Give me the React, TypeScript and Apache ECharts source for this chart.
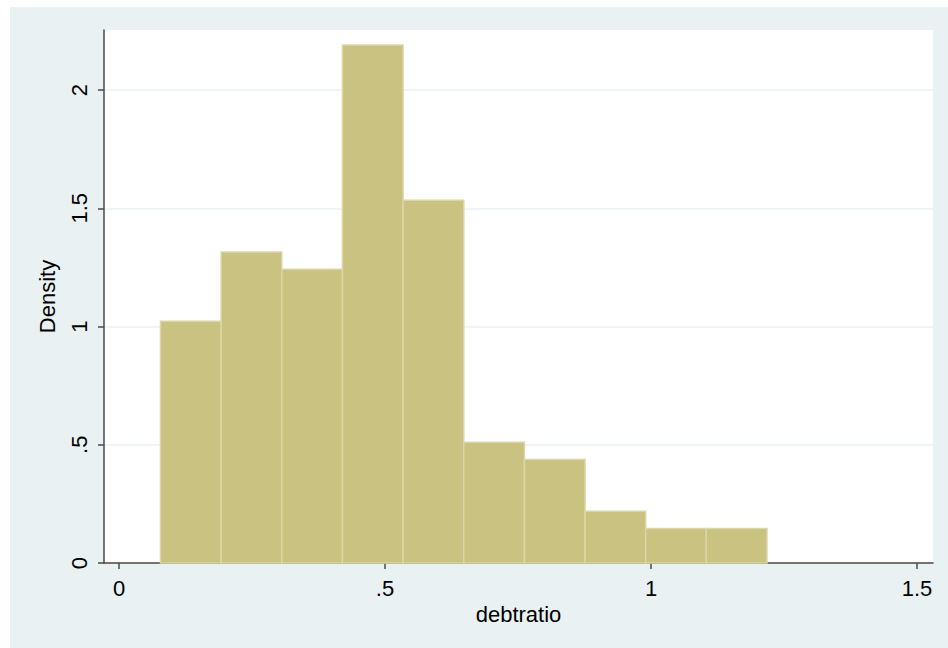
import React, { useEffect, useRef } from "react";
import * as echarts from "echarts";

// Histogram of debtratio (density scale), 10 equal-width bins
const binEdges = [0.078, 0.192, 0.306, 0.42, 0.534, 0.648, 0.762, 0.876, 0.99, 1.104, 1.218];
const densities = [1.022, 1.315, 1.242, 2.191, 1.534, 0.511, 0.438, 0.219, 0.146, 0.146];
const xTicks = [0, 0.5, 1, 1.5];
const yTicks = [0, 0.5, 1, 1.5, 2];

const fmt = (v: number) => {
  if (v === 0) return "0";
  const s = String(v);
  return s.startsWith("0.") ? s.slice(1) : s;
};

export default function App() {
  const ref = useRef<HTMLDivElement>(null);

  useEffect(() => {
    if (!ref.current) return;
    const chart = echarts.init(ref.current, undefined, { renderer: "svg" });

    const bins = densities.map((d, i) => [binEdges[i], binEdges[i + 1], d]);
    const font = "'Liberation Sans', Arial, sans-serif";
    const axisColor = "#4a4a4a";

    chart.setOption({
      animation: false,
      backgroundColor: "#ffffff",
      graphic: [
        {
          type: "rect",
          z: -100,
          silent: true,
          shape: { x: 10, y: 7, width: 938, height: 641 },
          style: { fill: "#eaf1f3" },
        },
      ],
      grid: {
        left: 104,
        top: 30,
        right: 15,
        bottom: 85,
        show: true,
        backgroundColor: "#ffffff",
        borderWidth: 0,
      },
      xAxis: {
        type: "value",
        min: -0.0282,
        max: 1.53,
        name: "debtratio",
        nameLocation: "middle",
        nameGap: 34,
        nameTextStyle: { fontFamily: font, fontSize: 22, color: "#000" },
        axisLine: { show: true, onZero: false, lineStyle: { color: axisColor, width: 1.5 } },
        axisTick: { show: true, length: 6, customValues: xTicks, lineStyle: { color: axisColor, width: 1.5 } },
        axisLabel: {
          customValues: xTicks,
          formatter: (v: number) => fmt(v),
          margin: 14,
          fontFamily: font,
          fontSize: 22,
          color: "#000",
        },
        splitLine: { show: false },
      },
      yAxis: {
        type: "value",
        min: 0,
        max: 2.254,
        interval: 0.5,
        name: "Density",
        nameLocation: "middle",
        nameGap: 46,
        nameTextStyle: { fontFamily: font, fontSize: 22, color: "#000" },
        axisLine: { show: true, onZero: false, lineStyle: { color: axisColor, width: 1.5 } },
        axisTick: { show: true, length: 6, customValues: yTicks, lineStyle: { color: axisColor, width: 1.5 } },
        axisLabel: {
          customValues: yTicks,
          rotate: 90,
          formatter: (v: number) => fmt(v),
          margin: 14,
          fontFamily: font,
          fontSize: 22,
          color: "#000",
        },
        splitLine: { show: true, lineStyle: { color: "#eaf1f3", width: 1.5 } },
      },
      series: [
        {
          type: "custom",
          data: bins,
          encode: { x: [0, 1], y: 2 },
          renderItem: (params: any, api: any) => {
            const p0 = api.coord([api.value(0), 0]);
            const p1 = api.coord([api.value(1), api.value(2)]);
            return {
              type: "rect",
              shape: { x: p0[0], y: p1[1], width: p1[0] - p0[0], height: p0[1] - p1[1] },
              style: { fill: "#c9c280", stroke: "#dbd6a8", lineWidth: 1.5 },
            };
          },
        },
      ],
    });

    return () => chart.dispose();
  }, []);

  return (
    <div
      ref={ref}
      style={{ position: "fixed", left: 0, top: 0, width: 948, height: 648 }}
    />
  );
}
